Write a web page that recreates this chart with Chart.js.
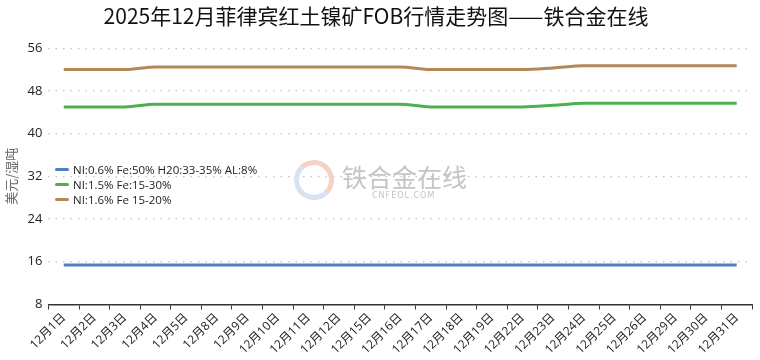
<!DOCTYPE html>
<html>
<head>
<meta charset="utf-8">
<script src="https://cdn.jsdelivr.net/npm/chart.js@4.4.0/dist/chart.umd.min.js"></script>
<style>
  html, body { margin: 0; padding: 0; background: #fff; }
  #wrap { position: relative; width: 760px; height: 360px; }
  #legend { position: absolute; left: 55px; top: 162px; font: 11.5px 'Open Sans', 'Noto Sans', sans-serif; color: #222; }
  #legend div { height: 15px; line-height: 15px; white-space: nowrap; }
  #legend span { display: inline-block; width: 14px; height: 3px; margin: 0 4px 3px 0; vertical-align: middle; border-radius: 2px; }
  #mark { position: absolute; left: 294px; top: 158px; pointer-events: none; }
  #mark .big { position: absolute; left: 48px; top: 0; font: 25px 'Noto Sans CJK SC', sans-serif; color: #c4c4c4; white-space: nowrap; letter-spacing: 0px; }
  #mark .small { position: absolute; left: 78px; top: 33px; font: 8px 'DejaVu Sans', sans-serif; color: #c4c4c4; letter-spacing: 1px; }
  #mark .ring { position: absolute; left: 0; top: 2px; width: 30px; height: 30px; border-radius: 50%; border: 5px solid #d7e3f2; border-top-color: #f5d3c4; border-right-color: #f5d3c4; }
</style>
</head>
<body>
<div id="wrap">
  <canvas id="c" width="760" height="360"></canvas>
  <div id="mark"><div class="ring"></div><div class="big">铁合金在线</div><div class="small">CNFEOL.COM</div></div>
  <div id="legend"></div>
</div>
<script>
(function () {
  'use strict';

  const days = ['12月1日', '12月2日', '12月3日', '12月4日', '12月5日', '12月8日', '12月9日', '12月10日',
    '12月11日', '12月12日', '12月15日', '12月16日', '12月17日', '12月18日', '12月19日', '12月22日',
    '12月23日', '12月24日', '12月25日', '12月26日', '12月29日', '12月30日', '12月31日'];

  const seriesNames = ['NI:0.6% Fe:50% H20:33-35% AL:8%', 'NI:1.5% Fe:15-30%', 'NI:1.6% Fe 15-20%'];
  const seriesColors = ['#4f81bd', '#4cb04f', '#b5885a'];

  const ni06 = [15.4, 15.4, 15.4, 15.4, 15.4, 15.4, 15.4, 15.4, 15.4, 15.4, 15.4, 15.4,
    15.4, 15.4, 15.4, 15.4, 15.4, 15.4, 15.4, 15.4, 15.4, 15.4, 15.4];
  const ni15 = [45, 45, 45, 45.5, 45.5, 45.5, 45.5, 45.5, 45.5, 45.5, 45.5, 45.5,
    45, 45, 45, 45, 45.3, 45.7, 45.7, 45.7, 45.7, 45.7, 45.7];
  const ni16 = [52, 52, 52, 52.5, 52.5, 52.5, 52.5, 52.5, 52.5, 52.5, 52.5, 52.5,
    52, 52, 52, 52, 52.3, 52.7, 52.7, 52.7, 52.7, 52.7, 52.7];

  const yTicks = [8, 16, 24, 32, 40, 48, 56];

  const values = [ni06, ni15, ni16];
  const FONT = "'Open Sans', 'Noto Sans CJK SC', sans-serif";

  // legend inside the plot, drawn as html
  const lg = document.getElementById('legend');
  seriesNames.forEach(function (name, i) {
    const row = document.createElement('div');
    row.innerHTML = '<span style="background:' + seriesColors[i] + '"></span>' + name;
    lg.appendChild(row);
  });

  new Chart(document.getElementById('c'), {
    type: 'line',
    data: {
      labels: days,
      datasets: values.map(function (v, i) {
        return {
          label: seriesNames[i],
          data: v,
          borderColor: seriesColors[i],
          backgroundColor: seriesColors[i],
          borderWidth: 3,
          pointRadius: 0,
          cubicInterpolationMode: 'monotone'
        };
      })
    },
    options: {
      responsive: false,
      animation: false,
      layout: { padding: { left: 0, right: 8, top: 0, bottom: 2 } },
      plugins: {
        legend: { display: false },
        tooltip: { enabled: false },
        title: {
          display: true,
          text: '2025年12月菲律宾红土镍矿FOB行情走势图——铁合金在线',
          color: '#111',
          font: { size: 21, family: "'Noto Sans CJK SC', sans-serif", weight: 'normal', lineHeight: 1.2 },
          padding: { top: 3, bottom: 20 }
        }
      },
      scales: {
        x: {
          offset: true,
          grid: { display: true, drawOnChartArea: false, drawTicks: true, tickLength: 5, color: '#333', offset: true },
          border: { display: true, color: '#333', width: 1.5 },
          ticks: { color: '#222', minRotation: 45, maxRotation: 45, autoSkip: false, padding: 1, font: { size: 12, family: FONT } }
        },
        y: {
          min: 8,
          max: 56,
          afterBuildTicks: function (axis) { axis.ticks = yTicks.map(function (v) { return { value: v }; }); },
          grid: { color: '#c4c4c4', lineWidth: 1.2, drawTicks: false, borderDash: [1.5, 6] },
          border: { display: false, dash: [1.5, 6] },
          ticks: { color: '#222', padding: 6, font: { size: 13, family: FONT } },
          title: { display: true, text: '美元/湿吨', color: '#666', font: { size: 13, family: "'Noto Sans CJK SC', sans-serif" }, padding: 3 }
        }
      }
    }
  });
})();
</script>
</body>
</html>
